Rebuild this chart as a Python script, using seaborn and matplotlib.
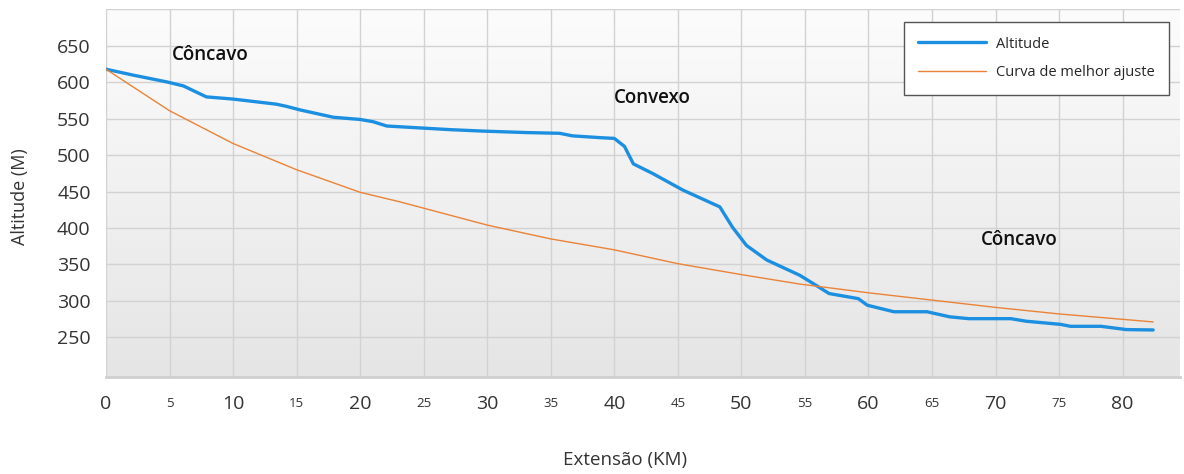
import numpy as np
import pandas as pd
import matplotlib
matplotlib.use("Agg")
import matplotlib.pyplot as plt
import seaborn as sns

# perfil do rio
km_alt = [0, 2.1, 4.8, 6.1, 7.9, 10.0, 13.4, 14.2, 15.3, 17.9, 20.0, 21.0, 22.1, 23.1,
          27.1, 29.7, 33.1, 35.7, 36.7, 38.9, 40.0, 40.8, 41.5, 43.0, 45.4, 48.3, 49.3,
          50.4, 52.0, 54.6, 55.9, 56.9, 59.2, 59.9, 62.0, 64.6, 66.4, 67.9, 71.2, 72.4,
          75.1, 75.9, 78.3, 80.3, 82.4]
altitude = [618, 610, 600.5, 595, 580, 577, 570, 567, 562, 552, 549, 546, 540, 539,
            535, 533, 531, 530, 526.5, 524, 523, 512, 488, 475, 452, 429, 401,
            376, 356, 335, 321, 310, 303, 294, 285, 285, 278, 275.5, 275.5, 272,
            267.7, 265, 265, 260.5, 260]

km_ajuste = [0, 5, 10, 15, 20, 23.1, 30, 35, 40, 45, 50, 54.6, 60, 65, 70, 75, 80, 82.4]
ajuste = [618, 561, 516, 480, 449, 436, 404, 385, 370, 351, 336, 323, 311, 301, 291, 282, 274.6, 271]

major_ticks = [0, 10, 20, 30, 40, 50, 60, 70, 80]
minor_ticks = [5, 15, 25, 35, 45, 55, 65, 75]
y_ticks = [250, 300, 350, 400, 450, 500, 550, 600, 650]

df_alt = pd.DataFrame({"km": km_alt, "alt": altitude})
df_fit = pd.DataFrame({"km": km_ajuste, "alt": ajuste})

sns.set_style("white")
plt.rcParams['font.family'] = ['Open Sans', 'DejaVu Sans']

fig = plt.figure(figsize=(11.84, 4.74), dpi=100)
ax = fig.add_axes([0.0895, 0.204, 0.907, 0.776])

# fundo em degrade
grad = np.linspace(0, 1, 256).reshape(-1, 1)
ax.imshow(grad, extent=[0, 1, 0, 1], transform=ax.transAxes, aspect='auto',
          cmap=matplotlib.colors.LinearSegmentedColormap.from_list('g', ['#fcfcfc', '#e5e5e5']),
          zorder=-1)

sns.lineplot(data=df_alt, x="km", y="alt", ax=ax, color="#1c8fe0", lw=2.4, label="Altitude")
sns.lineplot(data=df_fit, x="km", y="alt", ax=ax, color="#ea8338", lw=1.0, label="Curva de melhor ajuste")

ax.set_xlim(0, 84.5)
ax.set_ylim(195, 700)
ax.set_xticks(major_ticks)
ax.set_xticklabels([str(t) for t in major_ticks], fontsize=14, color="#333333")
ax.set_xticks(minor_ticks, minor=True)
ax.set_xticklabels([str(t) for t in minor_ticks], minor=True, fontsize=9.5, color="#333333")
ax.set_yticks(y_ticks)
ax.set_yticklabels([str(t) for t in y_ticks], fontsize=14, color="#333333")
ax.tick_params(axis='x', which='major', length=0, pad=13)
ax.tick_params(axis='x', which='minor', length=0, pad=14)
ax.tick_params(axis='y', length=0, pad=11)

ax.set_axisbelow(True)
ax.grid(True, which='both', color="#d2d2d2", lw=1)
ax.axhline(700, color="#d2d2d2", lw=1)

for s in ["top", "right", "left"]:
    ax.spines[s].set_visible(False)
ax.spines["bottom"].set_color("#cfcfcf")
ax.spines["bottom"].set_linewidth(2)

ax.set_xlabel("Extensão (KM)", fontsize=13.5, color="#333333")
ax.set_ylabel("Altitude (M)", fontsize=13, color="#333333")
ax.xaxis.set_label_coords(0.483, -0.2)
ax.yaxis.set_label_coords(-0.072, 0.49)

ax.text(8.2, 637, "Côncavo", fontsize=13.5, fontweight='semibold', ha='center', va='center', color='#111111')
ax.text(43.0, 578, "Convexo", fontsize=13.5, fontweight='semibold', ha='center', va='center', color='#111111')
ax.text(71.9, 383, "Côncavo", fontsize=13.5, fontweight='semibold', ha='center', va='center', color='#111111')

leg = ax.legend(loc='upper left', bbox_to_anchor=(0.743, 0.966), fontsize=10.5,
                handlelength=4.6, labelspacing=0.95, fancybox=False, framealpha=1,
                edgecolor="#555555", borderpad=1.0, handletextpad=0.7, borderaxespad=0)
leg.get_frame().set_linewidth(1)

plt.savefig("out.png", dpi=100)
